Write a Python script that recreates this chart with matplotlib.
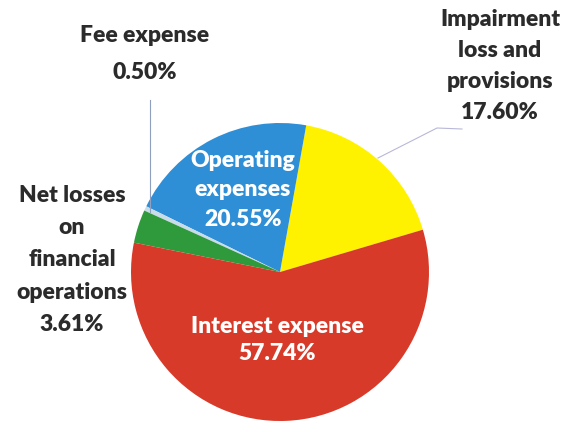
import matplotlib.pyplot as plt

# datos del grafico
labels = ["Impairment\nloss and\nprovisions", "Operating\nexpenses", "Fee expense",
          "Net losses\non\nfinancial\noperations", "Interest expense"]
values = [17.60, 20.55, 0.50, 3.61, 57.74]
pct_text = ["17.60%", "20.55%", "0.50%", "3.61%", "57.74%"]
colors = ["#fff200", "#2f8fd6", "#c9dcea", "#2e9a3c", "#d83a2a"]

H = 432
fig = plt.figure(figsize=(5.8, 4.32), dpi=100)
ax = fig.add_axes([0, 0, 1, 1])
ax.set_xlim(0, 580)
ax.set_ylim(0, H)
ax.set_aspect("equal")
ax.axis("off")

ax.pie(values, colors=colors, startangle=16.5, counterclock=True,
       center=(280, H - 272), radius=149,
       wedgeprops=dict(linewidth=0))
ax.set_xlim(0, 580)
ax.set_ylim(0, H)

fuente = "Lato"
oscuro = "#2b2b2b"
tam = 16.5

# etiquetas dentro
ax.text(243, H - 190, labels[1] + "\n" + pct_text[1], color="white", fontsize=tam,
        fontweight="heavy", family=fuente, ha="center", va="center", linespacing=1.5)
ax.text(277, H - 340, labels[4] + "\n" + pct_text[4], color="white", fontsize=tam,
        fontweight="heavy", family=fuente, ha="center", va="center", linespacing=1.4)

# etiquetas fuera
ax.text(145, H - 54, labels[2] + "\n" + pct_text[2], color=oscuro, fontsize=tam,
        fontweight="heavy", family=fuente, ha="center", va="center", linespacing=1.9)
ax.text(500, H - 66, labels[0] + "\n" + pct_text[0], color=oscuro, fontsize=tam,
        fontweight="heavy", family=fuente, ha="center", va="center", linespacing=1.6)
ax.text(72, H - 260, labels[3] + "\n" + pct_text[3], color=oscuro, fontsize=tam,
        fontweight="heavy", family=fuente, ha="center", va="center", linespacing=1.65)

# lineas guia
ax.plot([150, 150], [H - 100, H - 212], color="#8e9fc0", lw=0.8)
ax.plot([462, 437, 378], [H - 129, H - 128, H - 158], color="#b8b8d8", lw=0.8)

fig.savefig("out.png", dpi=100)
